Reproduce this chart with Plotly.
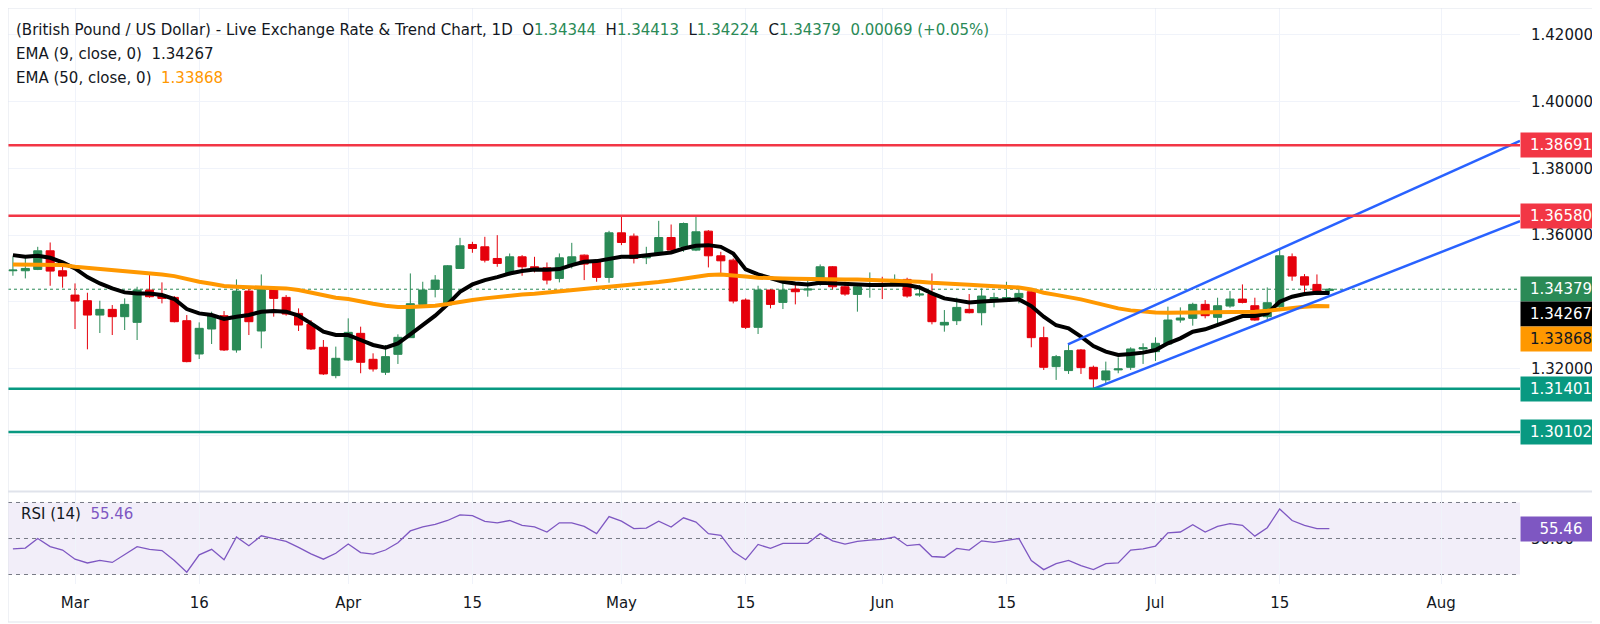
import plotly.graph_objects as go

# daily bars, weekdays only: index 0 = Mon 23 Feb 2026, index 106 = Tue 21 Jul 2026
opens = [1.34932, 1.34932, 1.34972, 1.35530, 1.34932, 1.34204, 1.34035, 1.33606, 1.33776, 1.33557,
         1.33387, 1.34354, 1.34204, 1.34135, 1.33437, 1.32440, 1.33188, 1.33586, 1.32560, 1.34324,
         1.33128, 1.34374, 1.34135, 1.33656, 1.33327, 1.32640, 1.31793, 1.32261, 1.33058, 1.32281,
         1.31893, 1.32430, 1.32929, 1.33925, 1.34374, 1.33905, 1.35001, 1.35719, 1.35649, 1.35300,
         1.34852, 1.35350, 1.35051, 1.35022, 1.34703, 1.35101, 1.35400, 1.35201, 1.34733, 1.36068,
         1.35968, 1.35320, 1.35430, 1.35928, 1.35649, 1.35550, 1.36118, 1.35380, 1.35250, 1.34055,
         1.33238, 1.34354, 1.33985, 1.34384, 1.34354, 1.34533, 1.35051, 1.34453, 1.34224, 1.34484,
         1.34553, 1.34533, 1.34673, 1.34204, 1.34234, 1.33308, 1.33437, 1.33776, 1.33676, 1.34095,
         1.34105, 1.34125, 1.34304, 1.32929, 1.32062, 1.31943, 1.32561, 1.32042, 1.31664, 1.31963,
         1.32042, 1.32590, 1.32510, 1.32740, 1.33457, 1.33507, 1.33926, 1.33537, 1.33875, 1.34085,
         1.33885, 1.33557, 1.33855, 1.35350, 1.34752, 1.34523, 1.34344]
highs = [1.35350, 1.35380, 1.35649, 1.35779, 1.35051, 1.34553, 1.34274, 1.34035, 1.33905, 1.34105,
         1.34453, 1.34852, 1.34584, 1.34175, 1.33606, 1.33387, 1.33706, 1.33726, 1.34673, 1.34404,
         1.34822, 1.34473, 1.34204, 1.33806, 1.33457, 1.32859, 1.32660, 1.33507, 1.33258, 1.32460,
         1.32709, 1.33028, 1.34852, 1.34603, 1.34802, 1.35101, 1.35918, 1.35799, 1.35948, 1.35998,
         1.35449, 1.35400, 1.35350, 1.35180, 1.35450, 1.35768, 1.35420, 1.35271, 1.36128, 1.36576,
         1.36048, 1.35649, 1.36427, 1.36317, 1.36377, 1.36546, 1.36148, 1.35500, 1.35300, 1.34105,
         1.34484, 1.34384, 1.34653, 1.34553, 1.34653, 1.35121, 1.35071, 1.34603, 1.34523, 1.34882,
         1.34752, 1.34822, 1.34723, 1.34503, 1.34852, 1.33756, 1.34125, 1.34234, 1.34404, 1.34274,
         1.34603, 1.34453, 1.34374, 1.33258, 1.32411, 1.32710, 1.32590, 1.32092, 1.32212, 1.32341,
         1.32640, 1.32759, 1.32939, 1.33856, 1.33836, 1.33975, 1.34055, 1.34125, 1.34324, 1.34523,
         1.34125, 1.34433, 1.35570, 1.35450, 1.34832, 1.34822, 1.34413]
lows = [1.34782, 1.34703, 1.34952, 1.34483, 1.34424, 1.33188, 1.32580, 1.33068, 1.33008, 1.33158,
        1.32859, 1.34125, 1.33955, 1.33387, 1.32191, 1.32291, 1.32739, 1.32530, 1.32480, 1.33008,
        1.32610, 1.33557, 1.33587, 1.33128, 1.32560, 1.31813, 1.31713, 1.32241, 1.31863, 1.31913,
        1.31813, 1.32141, 1.32929, 1.33836, 1.34135, 1.33885, 1.35001, 1.35470, 1.35181, 1.35051,
        1.34782, 1.34782, 1.34882, 1.34524, 1.34584, 1.35001, 1.34653, 1.34603, 1.34574, 1.35699,
        1.35151, 1.35131, 1.35380, 1.35450, 1.35500, 1.35520, 1.35032, 1.34852, 1.33955, 1.33188,
        1.33039, 1.33806, 1.33786, 1.33925, 1.34155, 1.34484, 1.34374, 1.34184, 1.33707, 1.34125,
        1.34085, 1.34484, 1.34125, 1.34155, 1.33327, 1.33108, 1.33307, 1.33656, 1.33298, 1.33836,
        1.34055, 1.33955, 1.32640, 1.31962, 1.31664, 1.31843, 1.31843, 1.31370, 1.31564, 1.31863,
        1.31963, 1.32142, 1.32231, 1.32710, 1.33377, 1.33288, 1.33507, 1.33258, 1.33825, 1.33955,
        1.33437, 1.33457, 1.33825, 1.34633, 1.34274, 1.34204, 1.34224]
closes = [1.34952, 1.35001, 1.35530, 1.34922, 1.34772, 1.34025, 1.33606, 1.33776, 1.33557, 1.33925,
          1.34354, 1.34155, 1.34105, 1.33407, 1.32211, 1.33208, 1.33586, 1.32560, 1.34324, 1.33407,
          1.34374, 1.34105, 1.33636, 1.33307, 1.32590, 1.31843, 1.32311, 1.33088, 1.32191, 1.31992,
          1.32361, 1.32939, 1.33945, 1.34354, 1.34653, 1.35081, 1.35679, 1.35599, 1.35250, 1.35151,
          1.35350, 1.35051, 1.34972, 1.34653, 1.35320, 1.35350, 1.35131, 1.34733, 1.36068, 1.35779,
          1.35300, 1.35420, 1.35928, 1.35550, 1.36347, 1.36098, 1.35380, 1.35230, 1.34025, 1.33238,
          1.34354, 1.33925, 1.34354, 1.34304, 1.34384, 1.35051, 1.34453, 1.34234, 1.34453, 1.34523,
          1.34503, 1.34673, 1.34175, 1.34234, 1.33407, 1.33387, 1.33835, 1.33676, 1.34175, 1.34125,
          1.34125, 1.34254, 1.32929, 1.32042, 1.32361, 1.32541, 1.32032, 1.31694, 1.31933, 1.31993,
          1.32590, 1.32630, 1.32760, 1.33457, 1.33517, 1.33926, 1.33587, 1.33885, 1.34085, 1.33985,
          1.33457, 1.33975, 1.35380, 1.34772, 1.34503, 1.34310, 1.34379]

# indicator values, one per bar
ema9 = [1.35400, 1.35350, 1.35380, 1.35320, 1.35181, 1.35001, 1.34742, 1.34553, 1.34404, 1.34284,
        1.34254, 1.34254, 1.34204, 1.34085, 1.33786, 1.33656, 1.33606, 1.33487, 1.33557, 1.33606,
        1.33706, 1.33726, 1.33706, 1.33587, 1.33357, 1.33108, 1.33008, 1.33008, 1.32859, 1.32710,
        1.32630, 1.32759, 1.33028, 1.33307, 1.33587, 1.33925, 1.34304, 1.34523, 1.34653, 1.34742,
        1.34852, 1.34922, 1.34972, 1.34962, 1.34982, 1.35101, 1.35200, 1.35221, 1.35300, 1.35350,
        1.35350, 1.35400, 1.35450, 1.35480, 1.35599, 1.35679, 1.35699, 1.35649, 1.35450, 1.34972,
        1.34822, 1.34703, 1.34603, 1.34553, 1.34523, 1.34573, 1.34553, 1.34523, 1.34503, 1.34503,
        1.34503, 1.34523, 1.34503, 1.34433, 1.34254, 1.34105, 1.34045, 1.33980, 1.34010, 1.34040,
        1.34065, 1.34075, 1.33875, 1.33557, 1.33300, 1.33208, 1.32959, 1.32680, 1.32511, 1.32411,
        1.32441, 1.32481, 1.32560, 1.32760, 1.32909, 1.33108, 1.33178, 1.33308, 1.33457, 1.33577,
        1.33577, 1.33656, 1.34005, 1.34154, 1.34234, 1.34274, 1.34267]
ema50 = [1.35121, 1.35121, 1.35131, 1.35121, 1.35101, 1.35051, 1.35021, 1.34982, 1.34952, 1.34922,
         1.34902, 1.34882, 1.34822, 1.34772, 1.34683, 1.34603, 1.34543, 1.34473, 1.34453, 1.34443,
         1.34424, 1.34414, 1.34404, 1.34354, 1.34274, 1.34184, 1.34125, 1.34085, 1.34005, 1.33945,
         1.33885, 1.33846, 1.33846, 1.33856, 1.33885, 1.33935, 1.34005, 1.34055, 1.34105, 1.34154,
         1.34204, 1.34224, 1.34244, 1.34284, 1.34304, 1.34344, 1.34384, 1.34424, 1.34453, 1.34483,
         1.34523, 1.34553, 1.34593, 1.34643, 1.34703, 1.34752, 1.34802, 1.34822, 1.34802, 1.34762,
         1.34723, 1.34703, 1.34703, 1.34693, 1.34683, 1.34683, 1.34683, 1.34673, 1.34673, 1.34663,
         1.34653, 1.34643, 1.34633, 1.34603, 1.34573, 1.34543, 1.34523, 1.34513, 1.34493, 1.34483,
         1.34463, 1.34433, 1.34374, 1.34274, 1.34210, 1.34154, 1.34075, 1.33985, 1.33895, 1.33806,
         1.33746, 1.33706, 1.33686, 1.33676, 1.33676, 1.33676, 1.33686, 1.33686, 1.33696, 1.33706,
         1.33706, 1.33736, 1.33776, 1.33826, 1.33856, 1.33876, 1.33868]
rsi14 = [44.2, 44.7, 50.0, 45.5, 43.6, 38.5, 36.4, 37.8, 36.7, 40.9,
         45.5, 44.0, 43.3, 37.8, 31.3, 40.9, 44.0, 38.2, 50.9, 46.0,
         51.5, 49.9, 48.4, 45.1, 41.5, 38.5, 41.8, 46.9, 42.2, 41.3,
         43.6, 47.6, 54.2, 56.4, 57.8, 60.0, 63.1, 62.7, 59.5, 58.7,
         60.0, 57.3, 56.5, 53.6, 58.7, 58.7, 56.7, 52.7, 62.2, 59.6,
         55.5, 55.8, 59.6, 56.4, 61.5, 59.1, 52.7, 51.8, 42.7, 38.2,
         46.7, 44.5, 47.3, 47.3, 47.3, 52.7, 48.7, 46.9, 48.4, 49.1,
         49.5, 50.9, 46.0, 46.7, 40.0, 39.6, 44.5, 43.6, 48.7, 47.8,
         48.7, 50.0, 37.8, 32.7, 36.0, 37.8, 34.9, 32.7, 36.0, 36.4,
         43.6, 44.2, 45.8, 53.1, 53.6, 57.6, 53.6, 56.7, 58.2, 57.3,
         51.3, 56.0, 66.4, 60.0, 57.3, 55.5, 55.46]

tick_pos = [5, 15, 27, 37, 49, 59, 70, 80, 92, 102, 115]
tick_text = ["Mar", "16", "Apr", "15", "May", "15", "Jun", "15", "Jul", "15", "Aug"]
price_ticks = [1.30, 1.32, 1.34, 1.36, 1.38, 1.40, 1.42]
hidden_ticks = [1.30, 1.34]  # covered by the value boxes on the right

resistance = [1.38691, 1.36580]
support = [1.31401, 1.30102]
channel_upper_x = [84.95, 121.35]
channel_upper_y = [1.32729, 1.38820]
channel_lower_x = [87.0, 121.35]
channel_lower_y = [1.31393, 1.36420]

GREEN = "#2a8a56"
RED = "#e5000b"
TEAL = "#089981"
LEVEL_RED = "#f23645"
BLUE = "#2962ff"
ORANGE = "#ff9800"
PURPLE = "#7e57c2"
GRID = "#f0f3fa"
TEXT = "#131722"
FONT = "DejaVu Sans, Verdana, sans-serif"

PLOT_H = 576.0
split = 1 - 483.5 / PLOT_H
right_edge = 1598 / 1512
x = list(range(len(closes)))
last = len(closes) - 1

fig = go.Figure()
fig.add_trace(go.Candlestick(
    x=x, open=opens, high=highs, low=lows, close=closes,
    increasing=dict(line=dict(color=GREEN, width=1), fillcolor=GREEN),
    decreasing=dict(line=dict(color=RED, width=1), fillcolor=RED),
    xaxis="x", yaxis="y", hoverinfo="skip", showlegend=False))
fig.add_trace(go.Scatter(x=x, y=ema9, mode="lines", line=dict(color="#000000", width=4),
                         xaxis="x", yaxis="y", hoverinfo="skip"))
fig.add_trace(go.Scatter(x=x, y=ema50, mode="lines", line=dict(color=ORANGE, width=4),
                         xaxis="x", yaxis="y", hoverinfo="skip"))
fig.add_trace(go.Scatter(x=channel_upper_x, y=channel_upper_y, mode="lines",
                         line=dict(color=BLUE, width=2.5), xaxis="x", yaxis="y", hoverinfo="skip"))
fig.add_trace(go.Scatter(x=channel_lower_x, y=channel_lower_y, mode="lines",
                         line=dict(color=BLUE, width=2.5), xaxis="x", yaxis="y", hoverinfo="skip"))
fig.add_trace(go.Scatter(x=x, y=rsi14, mode="lines", line=dict(color=PURPLE, width=1.3),
                         xaxis="x2", yaxis="y2", hoverinfo="skip"))

shapes = []
for lvl in resistance:
    shapes.append(dict(type="line", xref="paper", yref="y", x0=0, x1=1, y0=lvl, y1=lvl,
                       line=dict(color=LEVEL_RED, width=2.5), layer="above"))
for lvl in support:
    shapes.append(dict(type="line", xref="paper", yref="y", x0=0, x1=1, y0=lvl, y1=lvl,
                       line=dict(color=TEAL, width=2.5), layer="above"))
# last price line
shapes.append(dict(type="line", xref="paper", yref="y", x0=0, x1=1, y0=closes[last], y1=closes[last],
                   line=dict(color=GREEN, width=1, dash="dot"), layer="between"))
# RSI band and levels
shapes.append(dict(type="rect", xref="paper", yref="y2", x0=0, x1=1, y0=30, y1=70,
                   fillcolor="rgba(126,87,194,0.1)", line=dict(width=0), layer="below"))
for lvl in [70, 50, 30]:
    shapes.append(dict(type="line", xref="paper", yref="y2", x0=0, x1=1, y0=lvl, y1=lvl,
                       line=dict(color="#787b86", width=1, dash="4px,4px"), layer="between"))
# pane separator and frame
shapes.append(dict(type="line", xref="paper", yref="paper", x0=0, x1=right_edge, y0=split, y1=split,
                   line=dict(color="#e0e3eb", width=2)))
shapes.append(dict(type="rect", xref="paper", yref="paper", x0=0, x1=right_edge,
                   y0=1 - 614 / PLOT_H, y1=1, line=dict(color="#e0e3eb", width=1)))

annotations = []


def price_box(text, y, yref, bg, fg="white", yshift=0):
    annotations.append(dict(text=text, x=1, xref="paper", xanchor="left", y=y, yref=yref,
                            yanchor="middle", yshift=yshift, showarrow=False, bgcolor=bg,
                            width=80, height=24, borderpad=0, align="center",
                            font=dict(family=FONT, size=15, color=fg)))


for lvl in resistance:
    price_box(f"{lvl:.5f}", lvl, "y", LEVEL_RED)
for lvl in support:
    price_box(f"{lvl:.5f}", lvl, "y", TEAL)
price_box(f"{closes[last]:.5f}", closes[last], "y", GREEN)
price_box(f"{ema9[last]:.5f}", ema9[last], "y", "#000000", yshift=-20.7)
price_box(f"{ema50[last]:.5f}", ema50[last], "y", ORANGE, fg=TEXT, yshift=-32.2)
price_box(f"{rsi14[last]:.2f}", rsi14[last], "y2", PURPLE)

chg = closes[last] - closes[last - 1]
pct = chg / closes[last - 1] * 100


def g(v):
    return f'<span style="color:{GREEN}">{v}</span>'


legend_rows = [
    ("(British Pound / US Dollar) - Live Exchange Rate &amp; Trend Chart, 1D  "
     f"O{g(f'{opens[last]:.5f}')}  H{g(f'{highs[last]:.5f}')}  L{g(f'{lows[last]:.5f}')}  "
     f"C{g(f'{closes[last]:.5f}')}  {g(f'{chg:.5f} (+{pct:.2f}%)')}", 22),
    (f"EMA (9, close, 0)  {ema9[last]:.5f}", 46),
    (f'EMA (50, close, 0)  <span style="color:{ORANGE}">{ema50[last]:.5f}</span>', 70),
]
for txt, ypx in legend_rows:
    annotations.append(dict(text=txt, x=0, xref="paper", xanchor="left", xshift=6,
                            y=1 - ypx / PLOT_H, yref="paper", yanchor="middle", showarrow=False,
                            font=dict(family=FONT, size=15, color=TEXT)))
annotations.append(dict(text=f'RSI (14)  <span style="color:{PURPLE}">{rsi14[last]:.2f}</span>',
                        x=0, xref="paper", xanchor="left", xshift=11, y=1 - 506 / PLOT_H,
                        yref="paper", yanchor="middle", showarrow=False,
                        font=dict(family=FONT, size=15, color=TEXT)))

fig.update_layout(
    width=1600, height=624,
    margin=dict(l=0, r=88, t=0, b=48),
    paper_bgcolor="white", plot_bgcolor="white",
    showlegend=False,
    boxgap=0.35, boxgroupgap=0,
    font=dict(family=FONT, size=15, color=TEXT),
    shapes=shapes, annotations=annotations,
    xaxis=dict(domain=[0, 1], anchor="y", range=[-0.395, 121.35], tickvals=tick_pos,
               showticklabels=False, showgrid=True, gridcolor=GRID, zeroline=False,
               rangeslider=dict(visible=False), showline=False),
    xaxis2=dict(domain=[0, 1], anchor="y2", matches="x", tickvals=tick_pos, ticktext=tick_text,
                showgrid=True, gridcolor=GRID, zeroline=False, ticks="", ticklabelstandoff=8,
                tickfont=dict(size=15, color=TEXT), showline=False),
    yaxis=dict(domain=[split + 0.5 / PLOT_H, 1], side="right", range=[1.28338, 1.42799],
               tickvals=price_ticks,
               ticktext=["" if v in hidden_ticks else f"{v:.5f}" for v in price_ticks],
               showgrid=True, gridcolor=GRID, zeroline=False, ticks="", ticklabelstandoff=10,
               tickfont=dict(size=15, color=TEXT)),
    yaxis2=dict(domain=[0, split - 0.5 / PLOT_H], side="right", range=[24.72, 75.83],
                tickvals=[50], ticktext=["50.00"], showgrid=False, zeroline=False, ticks="",
                ticklabelstandoff=10, tickfont=dict(size=15, color=TEXT)),
)

fig.write_html("out.html")
